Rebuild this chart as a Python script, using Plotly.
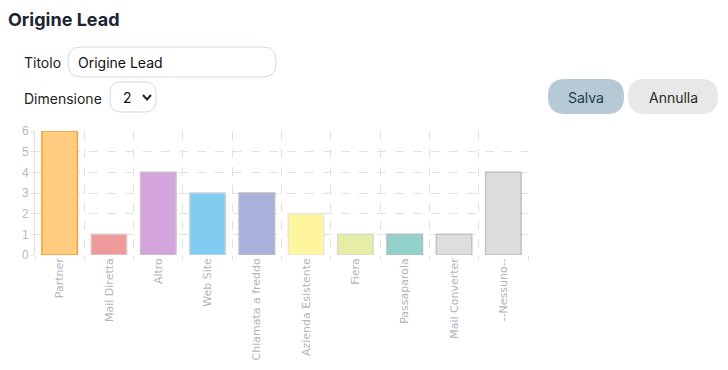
import plotly.graph_objects as go

categories = ["Partner", "Mail Diretta", "Altro", "Web Site", "Chiamata a freddo",
              "Azienda Esistente", "Fiera", "Passaparola", "Mail Converter", "--Nessuno--"]
values = [6, 1, 4, 3, 3, 2, 1, 1, 1, 4]
y_ticks = [0, 1, 2, 3, 4, 5, 6]

fill_colors = ["#FFCC80", "#EF9A9A", "#D4A4DC", "#81CCF0", "#A9B1DC",
               "#FFF59D", "#E6EEA6", "#92D2CA", "#DEDEDE", "#DDDDDD"]
line_colors = ["#F2A23A", "#DCCACA", "#C8C0C8", "#C6D2DA", "#B8B8C0",
               "#E8E8DA", "#DADAD0", "#B0C0BE", "#C4C4C4", "#C0C0C0"]

W, H = 728, 370
L, R, T, B = 35, 528, 131, 255


def px(x):
    return (x - L) / (R - L)


def py(y):
    return (B - y) / (B - T)


def rrect(x0, y0, x1, y1, r):
    # rounded rectangle path in paper coords, given pixel coords
    pts = [
        f"M {px(x0 + r)},{py(y0)}",
        f"L {px(x1 - r)},{py(y0)}",
        f"Q {px(x1)},{py(y0)} {px(x1)},{py(y0 + r)}",
        f"L {px(x1)},{py(y1 - r)}",
        f"Q {px(x1)},{py(y1)} {px(x1 - r)},{py(y1)}",
        f"L {px(x0 + r)},{py(y1)}",
        f"Q {px(x0)},{py(y1)} {px(x0)},{py(y1 - r)}",
        f"L {px(x0)},{py(y0 + r)}",
        f"Q {px(x0)},{py(y0)} {px(x0 + r)},{py(y0)}",
        "Z",
    ]
    return " ".join(pts)


fig = go.Figure(go.Bar(
    x=categories, y=values,
    marker=dict(color=fill_colors, line=dict(color=line_colors, width=1.5)),
    hoverinfo="x+y",
))

shapes = [
    dict(type="path", xref="paper", yref="paper", path=rrect(68, 47, 276, 77, 13),
         line=dict(color="#D3DAE2", width=1), fillcolor="white", layer="below"),
    dict(type="path", xref="paper", yref="paper", path=rrect(110, 82, 156, 112, 11),
         line=dict(color="#D3DAE2", width=1), fillcolor="white", layer="below"),
    dict(type="path", xref="paper", yref="paper",
         path=f"M {px(143)},{py(95)} L {px(147)},{py(99.5)} L {px(151)},{py(95)}",
         line=dict(color="#222222", width=2)),
    dict(type="path", xref="paper", yref="paper", path=rrect(548, 79, 624, 114, 17),
         line=dict(color="#B5CAD5", width=0), fillcolor="#B5CAD5", layer="below"),
    dict(type="path", xref="paper", yref="paper", path=rrect(628, 79, 718, 114, 17),
         line=dict(color="#E8E8E8", width=0), fillcolor="#E8E8E8", layer="below"),
]


def ann(text, x, y, size=14, color="#222222", anchor="left", bold=False, family="Inter"):
    return dict(text=(f"<b>{text}</b>" if bold else text), x=px(x), y=py(y),
                xref="paper", yref="paper", xanchor=anchor, yanchor="middle",
                showarrow=False, font=dict(size=size, color=color, family=family))


annotations = [
    ann("Origine Lead", 6, 20, size=18, color="#1B2533", bold=True),
    ann("Titolo", 22, 62, size=14, color="#222222"),
    ann("Origine Lead", 76, 62, size=14, color="#111111"),
    ann("Dimensione", 22, 98, size=14, color="#222222"),
    ann("2", 121, 97, size=14, color="#111111"),
    ann("Salva", 586, 97, size=14, color="#1F3B4D", anchor="center"),
    ann("Annulla", 673, 97, size=14, color="#2A2A2A", anchor="center"),
]

fig.update_layout(
    width=W, height=H,
    margin=dict(l=L, r=W - R, t=T, b=H - B, pad=0, autoexpand=False),
    paper_bgcolor="white", plot_bgcolor="white",
    bargap=0.28,
    showlegend=False,
    shapes=shapes,
    annotations=annotations,
    xaxis=dict(
        type="category", tickson="boundaries", showgrid=True, automargin=False,
        gridcolor="#E2E2E2", griddash="dash", gridwidth=1,
        tickangle=-90, ticks="outside", ticklen=4, tickcolor="#E2E2E2",
        tickfont=dict(family="DejaVu Sans", size=11, color="#AEB5BD"),
        showline=False, zeroline=False, layer="above traces",
    ),
    yaxis=dict(
        range=[0, 6], tickvals=y_ticks, showgrid=True, automargin=False,
        gridcolor="#E2E2E2", griddash="dash", gridwidth=1,
        ticks="outside", ticklen=3, tickcolor="#E2E2E2",
        tickfont=dict(family="Liberation Sans", size=12, color="#B3BAC2"),
        showline=True, linecolor="#E2E2E2", zeroline=False, layer="above traces",
    ),
)

fig.write_html("out.html")
